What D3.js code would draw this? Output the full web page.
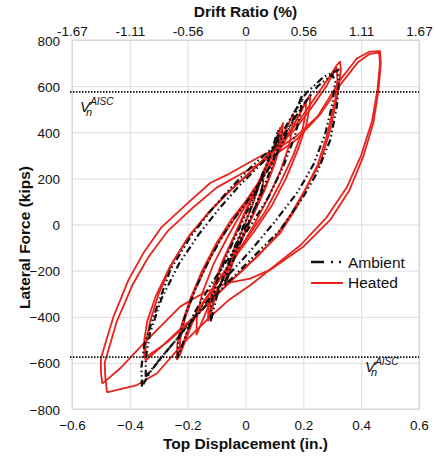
<!DOCTYPE html>
<html>
<head>
<meta charset="utf-8">
<script src="https://cdn.jsdelivr.net/npm/d3@7"></script>
<style>
  body { margin: 0; background: #fff; }
  text { font-family: Arial, "Liberation Sans", sans-serif; fill: #111; }
</style>
</head>
<body>
<svg id="chart" width="434" height="456"></svg>
<script>
// tick labels
const dispTicks = [-0.6, -0.4, -0.2, 0, 0.2, 0.4, 0.6];
const driftLabels = ["-1.67", "-1.11", "-0.56", "0", "0.56", "1.11", "1.67"];
const forceTicks = [-800, -600, -400, -200, 0, 200, 400, 600, 800];
const vnAisc = 575;

// heated specimen, cycles as [displacement (in.), force (kips)]
const heatedCycle1 = [[-0.065,-250],[-0.06,-190],[-0.04,-110],[-0.01,-20],[0.02,70],[0.045,160],[0.065,240],[0.06,170],[0.04,90],[0.01,0],[-0.02,-90],[-0.045,-170],[-0.065,-250]];
const heatedCycle2 = [[-0.125,-410],[-0.12,-330],[-0.1,-240],[-0.07,-140],[-0.03,-30],[0.01,80],[0.05,190],[0.09,310],[0.12,420],[0.118,350],[0.1,260],[0.07,160],[0.03,50],[-0.01,-50],[-0.05,-160],[-0.09,-270],[-0.11,-340],[-0.125,-410]];
const heatedCycle3 = [[-0.13,-420],[-0.128,-350],[-0.11,-260],[-0.08,-160],[-0.04,-50],[0,60],[0.04,170],[0.08,280],[0.11,370],[0.13,440],[0.125,380],[0.11,300],[0.08,200],[0.04,80],[0,-30],[-0.04,-130],[-0.08,-240],[-0.11,-330],[-0.13,-420]];
const heatedCycle4 = [[-0.237,-588],[-0.236,-520],[-0.22,-430],[-0.19,-320],[-0.15,-200],[-0.1,-80],[-0.05,20],[0,100],[0.06,210],[0.12,330],[0.17,440],[0.205,520],[0.224,565],[0.222,510],[0.21,430],[0.18,320],[0.14,200],[0.09,80],[0.03,-30],[-0.03,-130],[-0.09,-240],[-0.15,-350],[-0.2,-460],[-0.237,-588]];
const heatedCycle5 = [[-0.228,-570],[-0.226,-500],[-0.21,-410],[-0.18,-300],[-0.14,-190],[-0.09,-70],[-0.03,40],[0.03,150],[0.09,260],[0.14,370],[0.18,460],[0.21,540],[0.208,480],[0.195,400],[0.165,300],[0.12,180],[0.07,60],[0.01,-50],[-0.05,-160],[-0.11,-270],[-0.17,-380],[-0.228,-570]];
const heatedCycle6 = [[-0.346,-590],[-0.345,-520],[-0.33,-420],[-0.3,-300],[-0.25,-160],[-0.19,-40],[-0.12,60],[-0.05,150],[0.02,230],[0.1,330],[0.18,440],[0.24,550],[0.29,640],[0.315,690],[0.327,706],[0.33,670],[0.321,583],[0.293,410],[0.258,266],[0.224,193],[0.178,77],[0.12,-37],[0.062,-110],[-0.008,-197],[-0.08,-280],[-0.16,-380],[-0.24,-470],[-0.3,-540],[-0.346,-590]];
const heatedCycle7 = [[-0.35,-580],[-0.35,-500],[-0.34,-420],[-0.31,-310],[-0.26,-180],[-0.2,-60],[-0.13,50],[-0.06,140],[0.01,220],[0.09,310],[0.17,410],[0.23,510],[0.28,600],[0.305,660],[0.315,680],[0.318,630],[0.31,540],[0.285,400],[0.25,260],[0.21,160],[0.16,50],[0.1,-60],[0.04,-140],[-0.03,-220],[-0.11,-320],[-0.19,-420],[-0.27,-510],[-0.35,-580]];
const heatedCycle8 = [[-0.495,-690],[-0.5,-640],[-0.5,-580],[-0.457,-401],[-0.405,-241],[-0.353,-124],[-0.29,-11],[-0.2,93],[-0.122,180],[-0.064,215],[0.016,271],[0.06,301],[0.12,335],[0.178,385],[0.25,470],[0.327,626],[0.385,720],[0.43,750],[0.465,752],[0.468,700],[0.46,583],[0.442,440],[0.407,294],[0.36,150],[0.293,20],[0.2,-96],[0.085,-197],[0.016,-235],[-0.064,-254],[-0.146,-297],[-0.226,-356],[-0.352,-515],[-0.43,-620],[-0.495,-690]];
const heatedCycle9 = [[-0.479,-728],[-0.485,-660],[-0.487,-600],[-0.445,-420],[-0.39,-260],[-0.335,-140],[-0.27,-30],[-0.18,75],[-0.1,160],[0,230],[0.1,300],[0.178,370],[0.26,480],[0.33,610],[0.39,705],[0.43,740],[0.462,745],[0.465,700],[0.457,590],[0.438,450],[0.4,300],[0.35,160],[0.28,30],[0.19,-90],[0.1,-180],[0.02,-260],[-0.06,-330],[-0.122,-400],[-0.215,-514],[-0.306,-645],[-0.375,-696],[-0.479,-728]];
const heatedCycle10 = [[-0.17,-480],[-0.168,-400],[-0.15,-300],[-0.11,-170],[-0.06,-50],[-0.01,60],[0.04,170],[0.09,290],[0.135,400],[0.165,480],[0.162,420],[0.15,340],[0.12,230],[0.08,120],[0.03,0],[-0.02,-110],[-0.07,-220],[-0.12,-330],[-0.17,-480]];

// ambient specimen
const ambientCycle1 = [[-0.07,-260],[-0.065,-200],[-0.045,-120],[-0.015,-30],[0.015,60],[0.04,150],[0.062,230],[0.058,160],[0.035,80],[0.005,-10],[-0.025,-100],[-0.05,-180],[-0.07,-260]];
const ambientCycle2 = [[-0.12,-420],[-0.118,-340],[-0.1,-250],[-0.07,-150],[-0.03,-40],[0.01,70],[0.05,180],[0.085,300],[0.113,410],[0.11,340],[0.09,250],[0.06,150],[0.02,40],[-0.02,-60],[-0.06,-170],[-0.095,-290],[-0.12,-420]];
const ambientCycle3 = [[-0.235,-580],[-0.232,-500],[-0.21,-400],[-0.17,-270],[-0.12,-140],[-0.06,-10],[0,90],[0.07,220],[0.13,360],[0.17,470],[0.195,561],[0.19,480],[0.17,380],[0.13,250],[0.08,120],[0.02,0],[-0.05,-130],[-0.12,-260],[-0.18,-390],[-0.235,-580]];
const ambientCycle4 = [[-0.358,-703],[-0.36,-620],[-0.35,-520],[-0.318,-400],[-0.26,-197],[-0.19,-53],[-0.12,60],[-0.05,160],[0.02,250],[0.1,340],[0.16,470],[0.21,570],[0.27,640],[0.321,670],[0.322,600],[0.316,511],[0.293,366],[0.247,223],[0.2,121],[0.12,-24],[0.04,-124],[-0.018,-197],[-0.1,-300],[-0.2,-440],[-0.28,-560],[-0.33,-640],[-0.358,-703]];
const ambientCycle5 = [[-0.345,-660],[-0.345,-580],[-0.33,-470],[-0.29,-320],[-0.23,-170],[-0.16,-40],[-0.09,70],[-0.02,170],[0.06,270],[0.14,400],[0.2,520],[0.25,600],[0.3,650],[0.31,620],[0.3,520],[0.275,390],[0.235,260],[0.18,140],[0.1,10],[0.02,-110],[-0.06,-220],[-0.15,-360],[-0.24,-500],[-0.3,-590],[-0.345,-660]];

const heatedCycles = [heatedCycle1, heatedCycle2, heatedCycle3, heatedCycle10, heatedCycle4, heatedCycle5, heatedCycle6, heatedCycle7, heatedCycle8, heatedCycle9];
const ambientCycles = [ambientCycle1, ambientCycle2, ambientCycle3, ambientCycle4, ambientCycle5];

const svg = d3.select("#chart");
const margin = { top: 40, left: 72, right: 15, bottom: 47 };
const width = +svg.attr("width");
const height = +svg.attr("height");
const innerWidth = width - margin.left - margin.right;
const innerHeight = height - margin.top - margin.bottom;

const xScale = d3.scaleLinear().domain([-0.6, 0.6]).range([0, innerWidth]);
const yScale = d3.scaleLinear().domain([-800, 800]).range([innerHeight, 0]);

const chart = svg.append("g")
  .attr("transform", `translate(${margin.left},${margin.top})`);

// gridlines
chart.append("g")
  .attr("class", "grid")
  .call(d3.axisBottom(xScale).tickValues(dispTicks).tickSize(innerHeight).tickFormat(""))
  .call(g => g.select(".domain").remove());
chart.append("g")
  .attr("class", "grid")
  .call(d3.axisLeft(yScale).tickValues(forceTicks).tickSize(-innerWidth).tickFormat(""))
  .call(g => g.select(".domain").remove());
chart.selectAll(".grid line").attr("stroke", "#dcdcdc").attr("stroke-width", 1);
chart.selectAll(".grid text").remove();

chart.append("rect")
  .attr("width", innerWidth)
  .attr("height", innerHeight)
  .attr("fill", "none")
  .attr("stroke", "#d4d4d4");

// axes (labels only)
const xAxis = chart.append("g")
  .attr("transform", `translate(0,${innerHeight})`)
  .call(d3.axisBottom(xScale).tickValues(dispTicks).tickSize(0).tickFormat(d3.format("")));
const topAxis = chart.append("g")
  .call(d3.axisTop(xScale).tickValues(dispTicks).tickSize(0).tickFormat((d, i) => driftLabels[i]));
const yAxis = chart.append("g")
  .call(d3.axisLeft(yScale).tickValues(forceTicks).tickSize(0));
[xAxis, topAxis, yAxis].forEach(a => {
  a.select(".domain").remove();
  a.selectAll("text").attr("font-size", 13.5).attr("fill", "#222").attr("dy", null)
    .style("font-family", "Arial, 'Liberation Sans', sans-serif");
});
xAxis.selectAll("text").attr("y", 21);
topAxis.selectAll("text").attr("y", -4);
yAxis.selectAll("text").attr("x", -12).attr("y", 5);

// axis titles
chart.append("text")
  .attr("x", xScale(0)).attr("y", -23)
  .attr("text-anchor", "middle").attr("font-weight", "bold").attr("font-size", 15.5)
  .text("Drift Ratio (%)");
chart.append("text")
  .attr("x", xScale(0)).attr("y", innerHeight + 40)
  .attr("text-anchor", "middle").attr("font-weight", "bold").attr("font-size", 15.5)
  .text("Top Displacement (in.)");
chart.append("text")
  .attr("transform", "rotate(-90)")
  .attr("x", -(yScale(0) + 13)).attr("y", -42)
  .attr("text-anchor", "middle").attr("font-weight", "bold").attr("font-size", 15.5)
  .text("Lateral Force (kips)");

// hysteresis curves
const line = d3.line().x(d => xScale(d[0])).y(d => yScale(d[1]));

chart.append("g").selectAll("path")
  .data(heatedCycles).enter().append("path")
  .attr("d", line)
  .attr("fill", "none")
  .attr("stroke", "#e8231c")
  .attr("stroke-width", 1.8)
  .attr("stroke-linejoin", "round");

chart.append("g").selectAll("path")
  .data(ambientCycles).enter().append("path")
  .attr("d", line)
  .attr("fill", "none")
  .attr("stroke", "#111")
  .attr("stroke-width", 2.2)
  .attr("stroke-dasharray", "7,3,1.5,3,1.5,3");

// Vn AISC lines
[vnAisc, -vnAisc].forEach(v => {
  chart.append("line")
    .attr("x1", -2).attr("x2", innerWidth)
    .attr("y1", yScale(v)).attr("y2", yScale(v))
    .attr("stroke", "#111").attr("stroke-width", 1.6)
    .attr("stroke-dasharray", "1.5,1.5");
});

const vnLabel = (x, y) => {
  const t = chart.append("text").attr("x", x).attr("y", y).attr("font-style", "italic");
  t.append("tspan").attr("font-size", 15).text("V");
  t.append("tspan").attr("font-size", 11).attr("dx", -4).attr("dy", 4).text("n");
  t.append("tspan").attr("font-size", 10).attr("dx", -2).attr("dy", -11).text("AISC");
};
vnLabel(80 - margin.left, 112 - margin.top);
vnLabel(365 - margin.left, 372 - margin.top);

// legend
const legend = chart.append("g")
  .attr("transform", `translate(${311 - margin.left},${262 - margin.top})`);
legend.append("line")
  .attr("x1", 0).attr("x2", 32).attr("y1", 0).attr("y2", 0)
  .attr("stroke", "#111").attr("stroke-width", 2.5)
  .attr("stroke-dasharray", "13,7,2,6,2,20");
legend.append("text").attr("x", 37).attr("y", 6).attr("font-size", 15.5).text("Ambient");
legend.append("line")
  .attr("x1", 0).attr("x2", 32).attr("y1", 21).attr("y2", 21)
  .attr("stroke", "#e8231c").attr("stroke-width", 2);
legend.append("text").attr("x", 37).attr("y", 26).attr("font-size", 15.5).text("Heated");
</script>
</body>
</html>
